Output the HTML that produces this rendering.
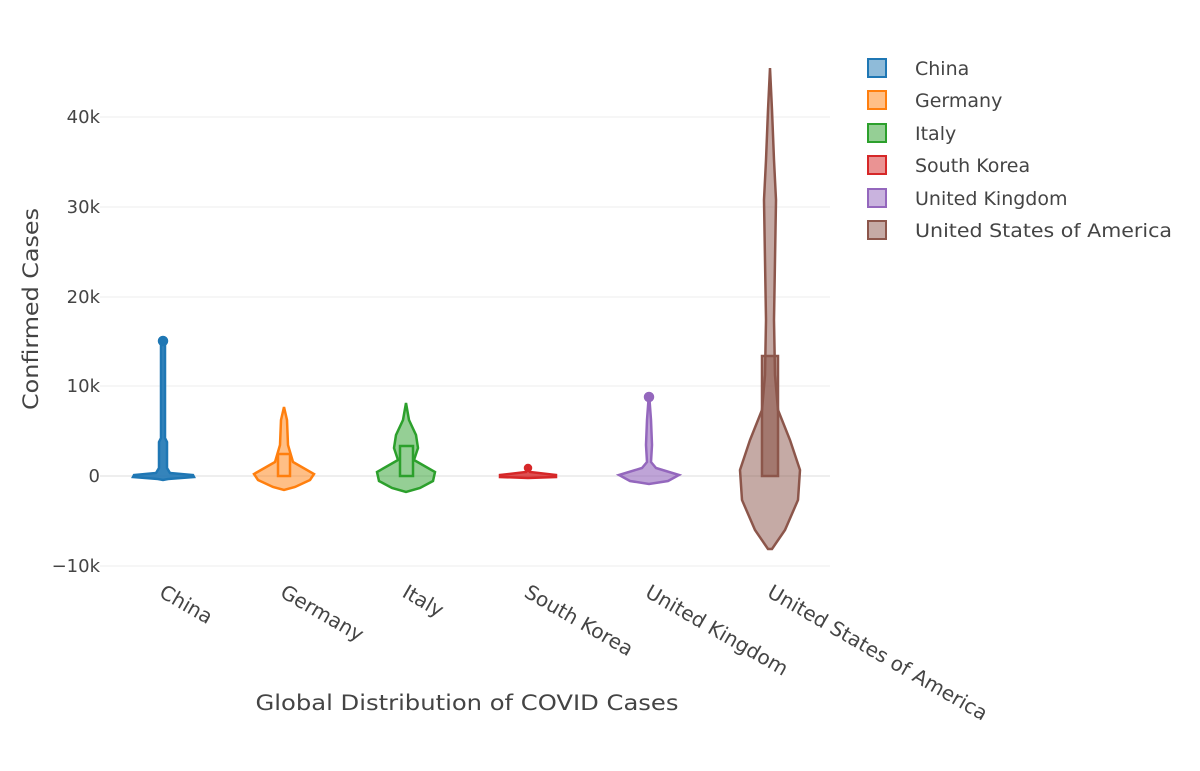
<!DOCTYPE html>
<html><head><style>body{margin:0;background:#fff}svg{display:block;font-family:"DejaVu Sans",sans-serif}</style></head><body>
<svg width="1200" height="771" viewBox="0 0 1200 771">
<g stroke="#eeeeee" stroke-width="1">
<line x1="100" x2="830" y1="117" y2="117"/><line x1="100" x2="830" y1="207" y2="207"/><line x1="100" x2="830" y1="297" y2="297"/><line x1="100" x2="830" y1="386" y2="386"/><line x1="100" x2="830" y1="566" y2="566"/>
</g>
<line x1="100" x2="830" y1="476" y2="476" stroke="#ddd" stroke-width="1"/>
<g fill="#444" font-size="18" text-anchor="end">
<text x="100" y="123">40k</text><text x="100" y="213">30k</text><text x="100" y="303">20k</text><text x="100" y="392">10k</text><text x="100" y="482">0</text><text x="100" y="572">−10k</text>
</g>
<text transform="translate(38,309) rotate(-90)" text-anchor="middle" font-size="21" fill="#444" textLength="202" lengthAdjust="spacingAndGlyphs">Confirmed Cases</text>
<text x="467" y="710" text-anchor="middle" font-size="21" fill="#444" textLength="423" lengthAdjust="spacingAndGlyphs">Global Distribution of COVID Cases</text>
<g fill="#444" font-size="20">
<text transform="translate(158,596) rotate(30)">China</text>
<text transform="translate(279,596) rotate(30)">Germany</text>
<text transform="translate(401,596) rotate(30)">Italy</text>
<text transform="translate(523,596) rotate(30)">South Korea</text>
<text transform="translate(644,596) rotate(30)">United Kingdom</text>
<text transform="translate(766,596) rotate(30)">United States of America</text>
</g>
<!-- China -->
<g stroke="#1f77b4" stroke-width="2.5" fill="#1f77b4" fill-opacity="0.5">
<path d="M163,341 L165,341 L165,438 L167,442 L167,468 L170,473 L193,475 L194,477 L168,479 L163,480 L158,479 L133,477 L134,475 L156,473 L159,468 L159,442 L161,438 L161,341Z" fill-opacity="0.9"/>
<circle cx="163" cy="341" r="4" fill-opacity="1"/>
</g>
<!-- Germany -->
<g stroke="#ff7f0e" stroke-width="2.5" fill="#ff7f0e" fill-opacity="0.5">
<path d="M284,407 L287,420 L288,445 L293,462 L314,474 L310,480 L295,487 L284,490 L273,487 L258,480 L254,474 L275,462 L280,445 L281,420Z"/>
<rect x="278" y="454" width="12" height="22" fill="none"/>
</g>
<!-- Italy -->
<g stroke="#2ca02c" stroke-width="2.5" fill="#2ca02c" fill-opacity="0.5">
<path d="M406,403 L409,420 L416,435 L418,448 L414,460 L435,472 L433,481 L420,488 L406,492 L392,488 L379,481 L377,472 L398,460 L394,448 L396,435 L403,420Z"/>
<rect x="400" y="446" width="13" height="30" fill="none"/>
</g>
<!-- South Korea -->
<g stroke="#d62728" stroke-width="2.5" fill="#d62728" fill-opacity="0.8">
<path d="M528,467 L530,472 L556,475 L556,477 L528,478 L500,477 L500,475 L526,472Z"/>
<circle cx="528" cy="468" r="3"/>
</g>
<!-- UK -->
<g stroke="#9467bd" stroke-width="2.5" fill="#9467bd" fill-opacity="0.6">
<path d="M649,393 L651,420 L652,445 L651,462 L656,468 L679,475 L668,481 L649,484 L630,481 L619,475 L642,468 L647,462 L646,445 L647,420Z"/>
<circle cx="649" cy="397" r="4" fill-opacity="1"/>
</g>
<!-- USA -->
<g stroke="#8c564b" stroke-width="2.5" fill="#8c564b" fill-opacity="0.5">
<path d="M770,68 L772,110 L774,160 L776,200 L775,260 L774,320 L775,375 L778,410 L790,440 L800,470 L798,500 L785,530 L772,549 L768,549 L755,530 L742,500 L740,470 L750,440 L762,410 L765,375 L766,320 L765,260 L764,200 L766,160 L768,110Z"/>
<rect x="762" y="356" width="16" height="120" fill-opacity="0.6"/>
</g>
<!-- Legend -->
<g font-size="19" fill="#444">
<rect x="868" y="59" width="18" height="18" fill="#1f77b4" fill-opacity="0.5" stroke="#1f77b4" stroke-width="2"/><text x="915" y="75">China</text>
<rect x="868" y="91" width="18" height="18" fill="#ff7f0e" fill-opacity="0.5" stroke="#ff7f0e" stroke-width="2"/><text x="915" y="107">Germany</text>
<rect x="868" y="124" width="18" height="18" fill="#2ca02c" fill-opacity="0.5" stroke="#2ca02c" stroke-width="2"/><text x="915" y="140">Italy</text>
<rect x="868" y="156" width="18" height="18" fill="#d62728" fill-opacity="0.5" stroke="#d62728" stroke-width="2"/><text x="915" y="172">South Korea</text>
<rect x="868" y="189" width="18" height="18" fill="#9467bd" fill-opacity="0.5" stroke="#9467bd" stroke-width="2"/><text x="915" y="205">United Kingdom</text>
<rect x="868" y="221" width="18" height="18" fill="#8c564b" fill-opacity="0.5" stroke="#8c564b" stroke-width="2"/><text x="915" y="237" textLength="257" lengthAdjust="spacingAndGlyphs">United States of America</text>
</g>
</svg>
</body></html>
